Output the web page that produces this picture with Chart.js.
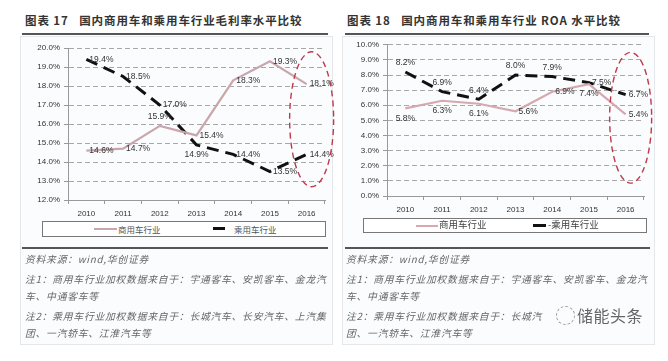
<!DOCTYPE html>
<html>
<head>
<meta charset="utf-8">
<script src="https://cdn.jsdelivr.net/npm/chart.js@4/dist/chart.umd.min.js"></script>
<style>
body { margin:0; width:668px; height:361px; background:#fff; position:relative; overflow:hidden; font-family:"Noto Sans CJK SC", sans-serif; }
.abs { position:absolute; }
.panel { position:absolute; border:1px solid #e4e8ea; background:#fbfcfd; }
.title { position:absolute; font-size:11.5px; font-weight:bold; color:#333; white-space:nowrap; letter-spacing:0.9px; }
.rule { position:absolute; height:2px; background:#555; }
.legend { position:absolute; border:1px solid #777; background:#fff; }
.legend span { position:absolute; font-size:8.5px; color:#555; line-height:1; white-space:nowrap; }
.legend i { position:absolute; display:block; }
.note { position:absolute; font-size:9.8px; font-style:italic; color:#666; white-space:nowrap; letter-spacing:0.75px; }
canvas { position:absolute; }
</style>
</head>
<body>
<div class="panel" style="left:20px;top:36px;width:311px;height:307px;"></div>
<div class="panel" style="left:342px;top:36px;width:311px;height:307px;"></div>

<div class="title" style="left:25px;top:12px;">图表 17&nbsp;&nbsp;&nbsp;国内商用车和乘用车行业毛利率水平比较</div>
<div class="title" style="left:347px;top:12px;">图表 18&nbsp;&nbsp;&nbsp;国内商用车和乘用车行业 ROA 水平比较</div>
<div class="rule" style="left:22px;top:33px;width:306px;"></div>
<div class="rule" style="left:345px;top:33px;width:304px;"></div>

<canvas id="c17" width="322" height="190" style="left:20px;top:36px;"></canvas>
<canvas id="c18" width="320" height="186" style="left:334px;top:36px;"></canvas>

<div class="legend" style="left:42px;top:221px;width:282px;height:14px;">
  <i style="left:51px;top:6px;width:23px;height:2px;background:#c9a6ab;"></i>
  <span style="left:75px;top:3px;">商用车行业</span>
  <i style="left:170px;top:5px;width:12px;height:3px;background:#111;"></i>
  <span style="left:191px;top:3px;">乘用车行业</span>
</div>
<div class="legend" style="left:363px;top:218px;width:282px;height:13px;">
  <i style="left:52px;top:6px;width:22px;height:1.5px;background:#d9a9b0;"></i>
  <span style="left:75px;top:1px;font-size:9.5px;color:#444;">商用车行业</span>
  <i style="left:169px;top:5px;width:13px;height:3px;background:#111;"></i>
  <span style="left:184px;top:1px;font-size:9.5px;color:#444;">-乘用车行业</span>
</div>

<div class="rule" style="left:22px;top:247px;width:306px;"></div>
<div class="rule" style="left:345px;top:247px;width:305px;"></div>

<div class="note" style="left:25px;top:252px;">资料来源：wind,华创证券</div>
<div class="note" style="left:25px;top:272px;">注1：商用车行业加权数据来自于：宇通客车、安凯客车、金龙汽</div>
<div class="note" style="left:25px;top:289px;">车、中通客车等</div>
<div class="note" style="left:25px;top:309px;">注2：乘用车行业加权数据来自于：长城汽车、长安汽车、上汽集</div>
<div class="note" style="left:25px;top:326px;">团、一汽轿车、江淮汽车等</div>

<div class="note" style="left:346px;top:252px;">资料来源：wind,华创证券</div>
<div class="note" style="left:346px;top:272px;">注1：商用车行业加权数据来自于：宇通客车、安凯客车、金龙汽</div>
<div class="note" style="left:346px;top:289px;">车、中通客车等</div>
<div class="note" style="left:346px;top:309px;">注2：乘用车行业加权数据来自于：长城汽</div>
<div class="note" style="left:346px;top:326px;">团、一汽轿车、江淮汽车等</div>
<div class="abs" style="left:556px;top:306px;width:17px;height:17px;border:1px dashed #999;border-radius:50%;background:#fbfcfd;"></div>
<div class="abs" style="left:577px;top:303px;font-size:16px;color:#666;letter-spacing:0.5px;background:#fbfcfd;">储能头条</div>

<script>
const years = ['2010', '2011', '2012', '2013', '2014', '2015', '2016'];

// 图表17 毛利率 (%)
const grossCommercial = [14.6, 14.7, 15.9, 15.4, 18.3, 19.3, 18.1];
const grossPassenger = [19.4, 18.5, 17.0, 14.9, 14.4, 13.5, 14.4];

// 图表18 ROA (%)
const roaCommercial = [5.8, 6.3, 6.1, 5.6, 6.9, 7.4, 5.4];
const roaPassenger = [8.2, 6.9, 6.4, 8.0, 7.9, 7.5, 6.7];

const seriesNames = ['商用车行业', '乘用车行业'];

// where each value label sits relative to its point
const sides17 = [
  ['r', 'r', 'a', 'r', 'r', 'r', 'r'],
  ['r', 'r', 'r', 'b', 'r', 'r', 'r']
];
const sides18 = [
  ['b', 'b', 'b', 'r', 'r', 'b', 'r'],
  ['a', 'a', 'a', 'a', 'a', 'r', 'r']
];

const valueLabels = {
  id: 'valueLabels',
  afterDatasetsDraw(chart, args, opts) {
    const c = chart.ctx;
    c.save();
    c.font = '8.5px "Liberation Sans", Arial, sans-serif';
    c.fillStyle = '#333';
    c.textBaseline = 'middle';
    chart.data.datasets.forEach((ds, i) => {
      chart.getDatasetMeta(i).data.forEach((pt, j) => {
        const txt = ds.data[j].toFixed(1) + '%';
        const s = opts.sides[i][j];
        let x = pt.x, y = pt.y;
        if (s === 'r') { c.textAlign = 'left'; x += 3; }
        else { c.textAlign = 'center'; y += (s === 'a' ? -9 : 10); }
        c.fillText(txt, x, y);
      });
    });
    c.restore();
  }
};

const ellipse = {
  id: 'ellipse',
  afterDraw(chart, args, opts) {
    const xs = chart.scales.x, ys = chart.scales.y;
    const cx = xs.getPixelForValue(years.length - 1) + opts.dx;
    const top = ys.getPixelForValue(opts.top);
    const bot = ys.getPixelForValue(opts.bottom);
    const c = chart.ctx;
    c.save();
    c.strokeStyle = '#c0384a';
    c.lineWidth = 1.4;
    c.setLineDash([6, 4]);
    c.beginPath();
    c.ellipse(cx, (top + bot) / 2, opts.rx, (bot - top) / 2, 0, 0, Math.PI * 2);
    c.stroke();
    c.restore();
  }
};

Chart.defaults.font.family = '"Liberation Sans", Arial, sans-serif';

function makeChart(id, a, b, sides, yMin, yMax, yWidth, pad, ell, commColor) {
  return new Chart(document.getElementById(id), {
    type: 'line',
    data: {
      labels: years,
      datasets: [{
        label: seriesNames[0],
        data: a,
        borderColor: commColor,
        borderWidth: 2.2,
        pointRadius: 0,
        tension: 0
      }, {
        label: seriesNames[1],
        data: b,
        borderColor: '#111',
        borderWidth: 3,
        borderDash: [12, 7],
        pointRadius: 0,
        tension: 0
      }]
    },
    options: {
      responsive: false,
      animation: false,
      layout: { padding: pad },
      plugins: {
        legend: { display: false },
        tooltip: { enabled: false },
        valueLabels: { sides: sides },
        ellipse: ell
      },
      scales: {
        x: {
          offset: true,
          afterFit(s) { s.height = 26; },
          grid: { drawOnChartArea: false, drawTicks: true, tickLength: 4, color: '#999', offset: true },
          border: { color: '#999' },
          ticks: { color: '#333', font: { size: 8 }, padding: 5, maxRotation: 0 }
        },
        y: {
          min: yMin,
          max: yMax,
          afterFit(s) { s.width = yWidth; },
          grid: {
            color: ctx => ctx.index === 0 ? 'rgba(0,0,0,0)' : '#a8a8a8',
            tickLength: 4,
            tickColor: '#999',
            tickBorderDash: [0, 0]
          },
          border: { color: '#999', dash: [5, 3] },
          ticks: {
            stepSize: 1,
            color: '#333',
            padding: 4,
            font: { size: 8 },
            callback: v => v.toFixed(1) + '%'
          }
        }
      }
    },
    plugins: [valueLabels, ellipse]
  });
}

makeChart('c17', grossCommercial, grossPassenger, sides17, 12, 20, 48,
  { left: 0, top: 12, right: 17, bottom: 0 },
  { dx: 5, top: 19.8, bottom: 12.7, rx: 22 }, '#c9a6ab');
makeChart('c18', roaCommercial, roaPassenger, sides18, 0, 10, 53,
  { left: 0, top: 7, right: 10, bottom: 0 },
  { dx: 5, top: 9.5, bottom: 0.85, rx: 21 }, '#d4a9b0');
</script>
</body>
</html>
